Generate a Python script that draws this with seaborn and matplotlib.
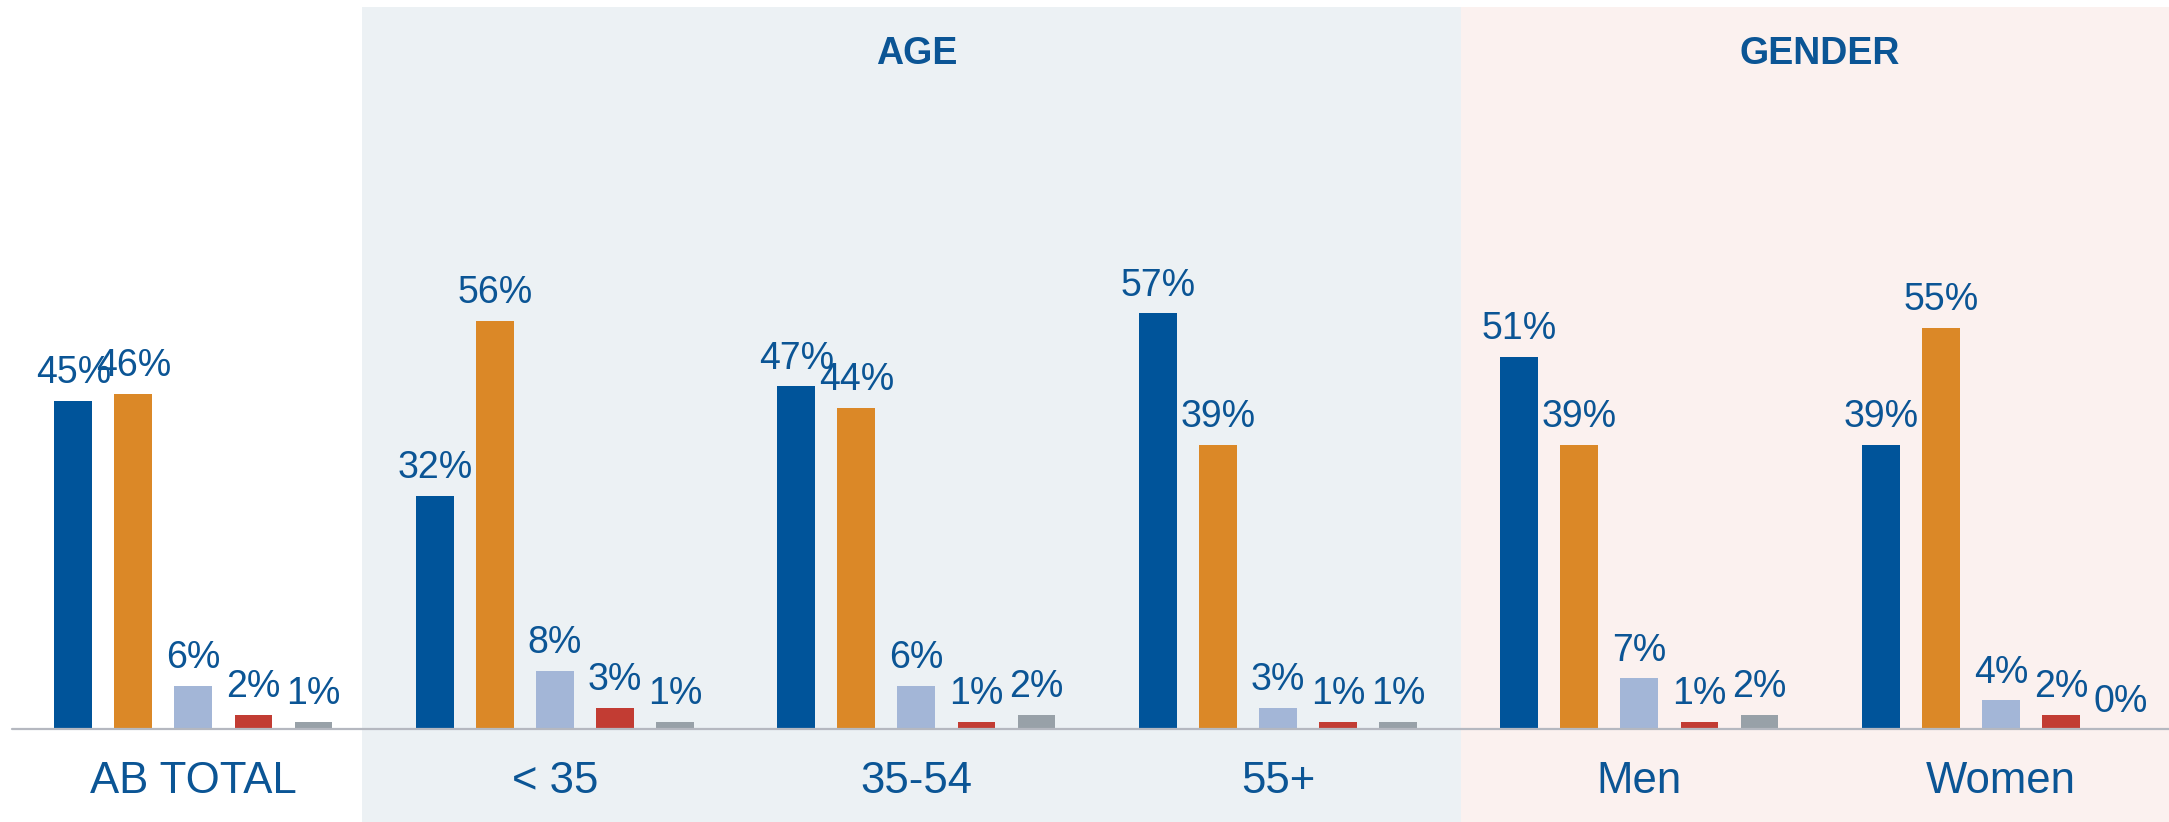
import pandas as pd
import matplotlib
matplotlib.use("Agg")
import matplotlib.pyplot as plt
import seaborn as sns

# chart data
groups = ["AB TOTAL", "< 35", "35-54", "55+", "Men", "Women"]
series = ["s1", "s2", "s3", "s4", "s5"]
s1 = [45, 32, 47, 57, 51, 39]
s2 = [46, 56, 44, 39, 39, 55]
s3 = [6, 8, 6, 3, 7, 4]
s4 = [2, 3, 1, 1, 1, 2]
s5 = [1, 1, 2, 1, 2, 0]
panel_titles = ["AGE", "GENDER"]

colors = ["#00549A", "#DB8827", "#A3B6D7", "#C23C33", "#98A1A8"]
text_blue = "#0B5595"

rows = []
for name, vals in zip(series, [s1, s2, s3, s4, s5]):
    for g, v in zip(groups, vals):
        rows.append({"group": g, "series": name, "value": v})
df = pd.DataFrame(rows)

sns.set_style("white")
plt.rcParams["font.family"] = ["Liberation Sans", "DejaVu Sans"]

fig = plt.figure(figsize=(21.69, 8.22), dpi=100)
ax = fig.add_axes([0, 0, 1, 1])

# shaded panels behind the age and gender groups
ax.axvspan(0.466, 3.506, ymin=0, ymax=1 - 7 / 822, color="#ECF1F4", zorder=0, lw=0)
ax.axvspan(3.506, 6.0, ymin=0, ymax=1 - 7 / 822, color="#FBF1EF", zorder=0, lw=0)

sns.barplot(data=df, x="group", y="value", hue="series", order=groups,
            hue_order=series, palette=colors, saturation=1, width=0.83, gap=0.37,
            legend=False, ax=ax, zorder=2, linewidth=0)

for cont in ax.containers:
    ax.bar_label(cont, labels=[f"{int(round(b.get_height()))}%" for b in cont],
                 padding=7, fontsize=27, color=text_blue)

ax.axhline(0, xmin=12 / 2169, xmax=1, color="#B5B8C0", lw=1.6, zorder=3)

for i, g in enumerate(groups):
    ax.text(i, -8.7, g, ha="center", va="baseline", fontsize=31.5, color=text_blue)

ax.text(2, 91.2, panel_titles[0], ha="center", va="baseline", fontsize=27,
        fontweight="bold", color=text_blue)
ax.text(4.5, 91.2, panel_titles[1], ha="center", va="baseline", fontsize=27,
        fontweight="bold", color=text_blue)

ax.set_xlim(-0.535, 5.465)
ax.set_ylim(-12.67, 99.9)
ax.set_axis_off()

fig.savefig("out.png", dpi=100)
plt.close(fig)
